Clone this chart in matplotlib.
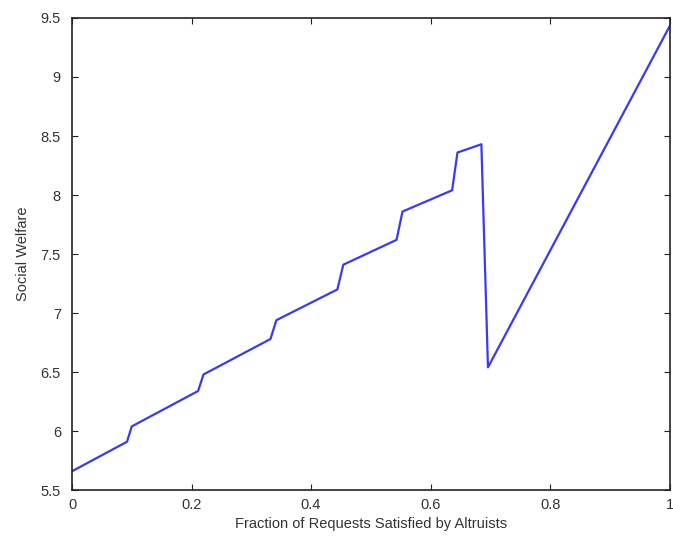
import matplotlib
matplotlib.use('Agg')
import matplotlib.pyplot as plt
from matplotlib.ticker import FuncFormatter

# Datos
fraccion = [0.0, 0.092, 0.100, 0.211, 0.220, 0.332, 0.342, 0.444, 0.454,
            0.543, 0.553, 0.636, 0.645, 0.685, 0.696, 1.0]
bienestar = [5.66, 5.91, 6.04, 6.34, 6.48, 6.78, 6.94, 7.20, 7.41,
             7.62, 7.86, 8.04, 8.36, 8.43, 6.54, 9.43]

x_ticks = [0, 0.2, 0.4, 0.6, 0.8, 1.0]
y_ticks = [5.5, 6, 6.5, 7, 7.5, 8, 8.5, 9, 9.5]

plt.rcParams['font.family'] = ['Liberation Sans', 'DejaVu Sans']

fig = plt.figure(figsize=(6.73, 5.44), dpi=100)
ax = fig.add_axes([0.107, 0.099, 0.888, 0.868])

ax.plot(fraccion, bienestar, color='#3838ff', linewidth=1.6)

ax.set_xlim(0, 1)
ax.set_ylim(5.5, 9.5)
ax.set_xticks(x_ticks)
ax.set_yticks(y_ticks)
fmt = FuncFormatter(lambda v, p: ('%g' % v))
ax.xaxis.set_major_formatter(fmt)
ax.yaxis.set_major_formatter(fmt)
ax.tick_params(direction='in', top=True, right=True, length=4, labelsize=10.5,
               colors='#222222', labelcolor='#333333')
ax.tick_params(axis='x', pad=6)
ax.tick_params(axis='y', pad=8)
for s in ax.spines.values():
    s.set_linewidth(1.2)
    s.set_color('#222222')

ax.set_xlabel('Fraction of Requests Satisfied by Altruists', fontsize=10.5, color='#333333', labelpad=3)
ax.set_ylabel('Social Welfare', fontsize=10.5, color='#333333', labelpad=8)

fig.savefig('out.png', dpi=100)
